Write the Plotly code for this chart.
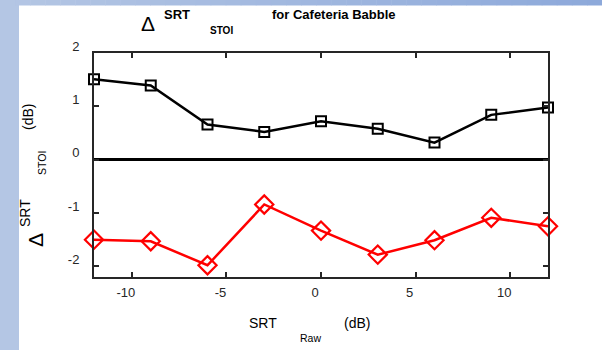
import plotly.graph_objects as go

# SRT of the raw signal (dB) and the two STOI-based differences
srt_raw = [-12, -9, -6, -3, 0, 3, 6, 9, 12]
delta_black = [1.51, 1.39, 0.66, 0.52, 0.72, 0.58, 0.32, 0.84, 0.98]
delta_red = [-1.50, -1.53, -1.98, -0.84, -1.33, -1.78, -1.51, -1.09, -1.25]

x_ticks = [-10, -5, 0, 5, 10]
y_ticks = [-2, -1, 0, 1, 2]

W, H = 602, 350
L, R, T, B = 94, 548, 53, 277
FONT = "Liberation Sans, Arial, sans-serif"
AXC = "#262626"


def px(x):
    return (x - L) / (R - L)


def py(y):
    return (B - y) / (B - T)


fig = go.Figure()
fig.add_trace(go.Scatter(
    x=srt_raw, y=delta_black, mode="lines+markers",
    line=dict(color="black", width=2.5),
    marker=dict(symbol="square-open", size=10, color="black",
                line=dict(width=2, color="black")),
    cliponaxis=False, showlegend=False))
fig.add_trace(go.Scatter(
    x=srt_raw, y=delta_red, mode="lines+markers",
    line=dict(color="#ff0000", width=2.5),
    marker=dict(symbol="diamond-open", size=14, color="#ff0000",
                line=dict(width=2.2, color="#ff0000")),
    cliponaxis=False, showlegend=False))

shapes = []
# left frame strip
shapes.append(dict(type="rect", xref="paper", yref="paper",
                   x0=px(0), x1=px(19), y0=py(H), y1=py(0),
                   fillcolor="#b4c6e4", line=dict(width=0), layer="below"))
# top frame strip with a left-to-right shade
n = 40
c0 = (180, 198, 228)
c1 = (141, 169, 218)
for i in range(n):
    t = i / (n - 1)
    col = "rgb(%d,%d,%d)" % tuple(round(a + (b - a) * t) for a, b in zip(c0, c1))
    shapes.append(dict(type="rect", xref="paper", yref="paper",
                       x0=px(W * i / n), x1=px(W * (i + 1) / n + 0.5),
                       y0=py(5.5), y1=py(0),
                       fillcolor=col, line=dict(width=0), layer="below"))

ann = []


def label(x, y, text, size, bold=False, angle=0, color="black"):
    if bold:
        text = "<b>%s</b>" % text
    ann.append(dict(xref="paper", yref="paper", x=px(x), y=py(y), text=text,
                    showarrow=False, xanchor="center", yanchor="middle",
                    textangle=angle, font=dict(family=FONT, size=size, color=color)))


# title
label(148, 24, "Δ", 21)
label(177, 15, "SRT", 13, bold=True)
label(221, 31, "STOI", 10, bold=True)
label(334, 15, "for Cafeteria Babble", 13, bold=True)

# x-axis title
label(263, 323, "SRT", 14)
label(310, 338, "Raw", 10.5)
label(357, 323, "(dB)", 14)

# y-axis title
label(35, 240, "Δ", 21, angle=-90)
label(25, 213, "SRT", 14, angle=-90)
label(42, 163, "STOI", 10.5, angle=-90)
label(28, 117, "(dB)", 14, angle=-90)

fig.update_layout(
    width=W, height=H,
    margin=dict(l=L, r=W - R, t=T, b=H - B, pad=0),
    paper_bgcolor="white", plot_bgcolor="white",
    shapes=shapes, annotations=ann,
    font=dict(family=FONT, size=13, color=AXC),
    xaxis=dict(range=[-12, 12], tickvals=x_ticks, ticktext=[str(v) for v in x_ticks],
               showgrid=False, zeroline=False, showline=True, mirror="ticks",
               linecolor=AXC, linewidth=2, ticks="inside", ticklen=5,
               tickwidth=2, tickcolor=AXC, ticklabelshift=-6,
               ticklabelstandoff=2,
               tickfont=dict(family=FONT, size=13, color=AXC)),
    yaxis=dict(range=[-2.2, 2], tickvals=y_ticks, ticktext=[str(v) for v in y_ticks],
               showgrid=False, zeroline=True, zerolinecolor="black",
               zerolinewidth=2.5, showline=True, mirror="ticks",
               linecolor=AXC, linewidth=2, ticks="inside", ticklen=5,
               tickwidth=2, tickcolor=AXC, ticklabelshift=-7,
               ticklabelstandoff=10,
               tickfont=dict(family=FONT, size=13, color=AXC)),
)

fig.write_html("out.html")
